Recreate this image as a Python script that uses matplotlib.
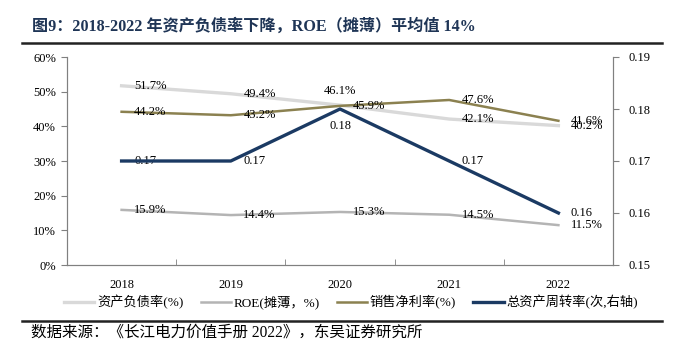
import matplotlib.pyplot as plt
from matplotlib.lines import Line2D

plt.rcParams['font.family'] = ['Liberation Serif', 'Noto Sans CJK SC', 'DejaVu Sans']

years = ['2018', '2019', '2020', '2021', '2022']
debt_ratio = [51.7, 49.4, 46.1, 42.1, 40.2]
roe = [15.9, 14.4, 15.3, 14.5, 11.5]
net_margin = [44.2, 43.2, 45.9, 47.6, 41.6]
turnover = [0.17, 0.17, 0.18, 0.17, 0.16]

c_debt = '#d9d9d9'
c_roe = '#b4b4b4'
c_margin = '#8b8150'
c_turn = '#1b3a63'

fig = plt.figure(figsize=(6.81, 3.47), dpi=100)
ax = fig.add_axes([67 / 681, 1 - 265 / 347, 546 / 681, 208 / 347])
ax2 = ax.twinx()

x = list(range(len(years)))
ax.plot(x, debt_ratio, color=c_debt, lw=2.4, zorder=2)
ax.plot(x, roe, color=c_roe, lw=1.8, zorder=2)
ax.plot(x, net_margin, color=c_margin, lw=1.8, zorder=3)
ax2.plot(x, turnover, color=c_turn, lw=2.4, zorder=4)

fs = 9
for i, v in enumerate(debt_ratio):
    if i == 2:
        ax.annotate(f'{v}%', (i, v), xytext=(0, 6), textcoords='offset points',
                    ha='center', va='bottom', fontsize=fs)
    else:
        ax.annotate(f'{v}%', (i, v), xytext=(9, 0), textcoords='offset points',
                    ha='left', va='center', fontsize=fs)
for i, v in enumerate(roe):
    ax.annotate(f'{v}%', (i, v), xytext=(9, 0), textcoords='offset points',
                ha='left', va='center', fontsize=fs)
for i, v in enumerate(net_margin):
    ax.annotate(f'{v}%', (i, v), xytext=(9, 0), textcoords='offset points',
                ha='left', va='center', fontsize=fs)
for i, v in enumerate(turnover):
    if i == 2:
        ax2.annotate(f'{v:.2f}', (i, v), xytext=(0, -8), textcoords='offset points',
                     ha='center', va='top', fontsize=fs)
    else:
        ax2.annotate(f'{v:.2f}', (i, v), xytext=(9, 0), textcoords='offset points',
                     ha='left', va='center', fontsize=fs)

ax.set_xlim(-0.5, len(years) - 0.5)
ax.set_ylim(0, 60)
ax.set_yticks(range(0, 61, 10))
ax.set_yticklabels([f'{t}%' for t in range(0, 61, 10)])
ax2.set_ylim(0.15, 0.19)
ax2.set_yticks([0.15, 0.16, 0.17, 0.18, 0.19])
ax2.set_yticklabels(['0.15', '0.16', '0.17', '0.18', '0.19'])

ax.set_xticks(x)
ax.set_xticklabels(years)
ax.tick_params(axis='x', length=0, labelsize=fs, pad=10)
ax.set_xticks([i + 0.5 for i in range(len(years) - 1)], minor=True)
ax.tick_params(axis='x', which='minor', direction='in', length=4, color='#808080')
ax.tick_params(axis='y', length=4, color='#808080', labelsize=fs, pad=4)
ax2.tick_params(axis='y', length=4, color='#808080', labelsize=fs, pad=7)

for a in (ax, ax2):
    a.spines['top'].set_visible(False)
    for s in ('left', 'right', 'bottom'):
        a.spines[s].set_color('#808080')
        a.spines[s].set_linewidth(0.8)

handles = [Line2D([], [], color=c_debt, lw=2.4),
           Line2D([], [], color=c_roe, lw=1.8),
           Line2D([], [], color=c_margin, lw=1.8),
           Line2D([], [], color=c_turn, lw=2.4)]
labels = ['资产负债率(%)', 'ROE(摊薄，%)', '销售净利率(%)', '总资产周转率(次,右轴)']
fig.legend(handles, labels, loc='center', bbox_to_anchor=(351 / 681, 1 - 302 / 347),
           ncol=4, frameon=False, fontsize=9.5, handlelength=2.3, handletextpad=0.2,
           columnspacing=1.3, borderpad=0, borderaxespad=0)

fig.text(32 / 681, 1 - 27 / 347, '图9：2018-2022 年资产负债率下降，ROE（摊薄）平均值 14%',
         fontsize=11.6, fontweight='bold', color='#1f3556', va='center', ha='left')
fig.add_artist(Line2D([22 / 681, 662 / 681], [1 - 43 / 347] * 2, color='#222222', lw=1.8))
fig.add_artist(Line2D([22 / 681, 662 / 681], [1 - 321 / 347] * 2, color='#222222', lw=1.8))
fig.text(31 / 681, 1 - 333 / 347, '数据来源：《长江电力价值手册 2022》，东吴证券研究所',
         fontsize=11.2, color='black', va='center', ha='left')

fig.savefig('out.png', dpi=100)
